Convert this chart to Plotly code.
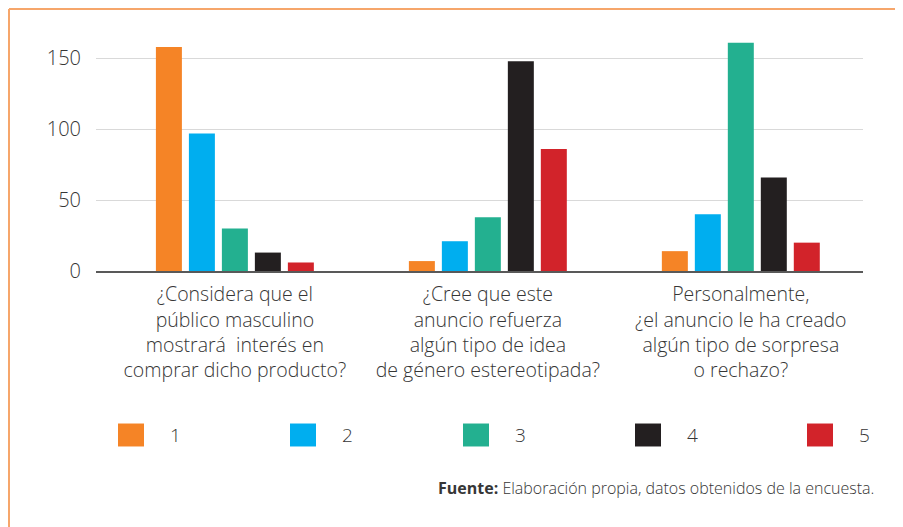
import plotly.graph_objects as go

categories = [
    "¿Considera que el<br>público masculino<br>mostrará  interés en<br>comprar dicho producto?",
    "¿Cree que este<br>anuncio refuerza<br>algún tipo de idea<br>de género estereotipada?",
    "Personalmente,<br>¿el anuncio le ha creado<br>algún tipo de sorpresa<br>o rechazo?",
]
series_names = ["1", "2", "3", "4", "5"]
values_1 = [158, 7, 14]
values_2 = [97, 21, 40]
values_3 = [30, 38, 161]
values_4 = [13, 148, 66]
values_5 = [6, 86, 20]
series_values = [values_1, values_2, values_3, values_4, values_5]
colors = ["#F58426", "#00AEEF", "#23B090", "#231F20", "#D2232A"]
y_tickvals = [0, 50, 100, 150]

# page offset (body margin) compensation: screen coords -> figure coords
OFF = 8
W, H = 903 - OFF, 527 - OFF
# plot area in screen coords
SX0, SX1 = 96, 863
SY_TOP, SY0 = 30, 271.3
ML, MR, MT = SX0 - OFF, (903 - SX1), SY_TOP - OFF
PW = SX1 - SX0
PH = SY0 - SY_TOP
MB = 527 - SY0

def px(x):
    return (x - SX0) / PW

def py(y):
    return (SY0 - y) / PH

FONT = "Open Sans"
TXT = "#363636"

fig = go.Figure()
for name, vals, col in zip(series_names, series_values, colors):
    fig.add_trace(go.Bar(x=categories, y=vals, name=name, marker=dict(color=col, line=dict(width=0)),
                         showlegend=False))

shapes = []
annotations = []
# custom legend
leg_x = [118, 290, 463, 635, 807]
for lx, name, col in zip(leg_x, series_names, colors):
    shapes.append(dict(type="rect", xref="paper", yref="paper", x0=px(lx), x1=px(lx + 26),
                       y0=py(447), y1=py(424), fillcolor=col, line=dict(width=0)))
    annotations.append(dict(text=name, xref="paper", yref="paper", x=px(lx + 50), y=py(436),
                            xanchor="left", yanchor="middle", showarrow=False,
                            font=dict(family=FONT, size=19, color=TXT, weight=300)))
# border (top and left, orange)
shapes.append(dict(type="line", xref="paper", yref="paper", x0=px(OFF + 1), x1=px(903 + 5), y0=py(OFF + 1), y1=py(OFF + 1),
                   line=dict(color="#F6A66B", width=2)))
shapes.append(dict(type="line", xref="paper", yref="paper", x0=px(OFF + 1), x1=px(OFF + 1), y0=py(OFF + 1), y1=py(527 + 5),
                   line=dict(color="#F6A66B", width=2)))
# footer
annotations.append(dict(text="<b>Fuente:</b> Elaboración propia, datos obtenidos de la encuesta.",
                        xref="paper", yref="paper", x=px(876), y=py(489), xanchor="right", yanchor="middle",
                        showarrow=False, font=dict(family=FONT, size=16, color=TXT, weight=300)))

fig.update_layout(
    width=W, height=H,
    margin=dict(l=ML, r=MR, t=MT, b=MB),
    paper_bgcolor="white", plot_bgcolor="white",
    barmode="group", bargap=0.348, bargroupgap=0.212,
    shapes=shapes, annotations=annotations,
    showlegend=False,
    font=dict(family=FONT, color=TXT),
)
fig.update_xaxes(range=[-0.549, 2.483], showgrid=False, showline=True, linecolor="#595959", linewidth=2,
                 ticks="", tickfont=dict(family=FONT, size=19.5, color=TXT, weight=300), ticklabelstandoff=5)
fig.update_yaxes(range=[0, 170], tickvals=y_tickvals, showgrid=True, gridcolor="#D9D9D9", gridwidth=1,
                 zeroline=False, showline=False, ticks="",
                 tickfont=dict(family=FONT, size=20, color=TXT, weight=300), ticklabelstandoff=14)

fig.write_html("out.html")
